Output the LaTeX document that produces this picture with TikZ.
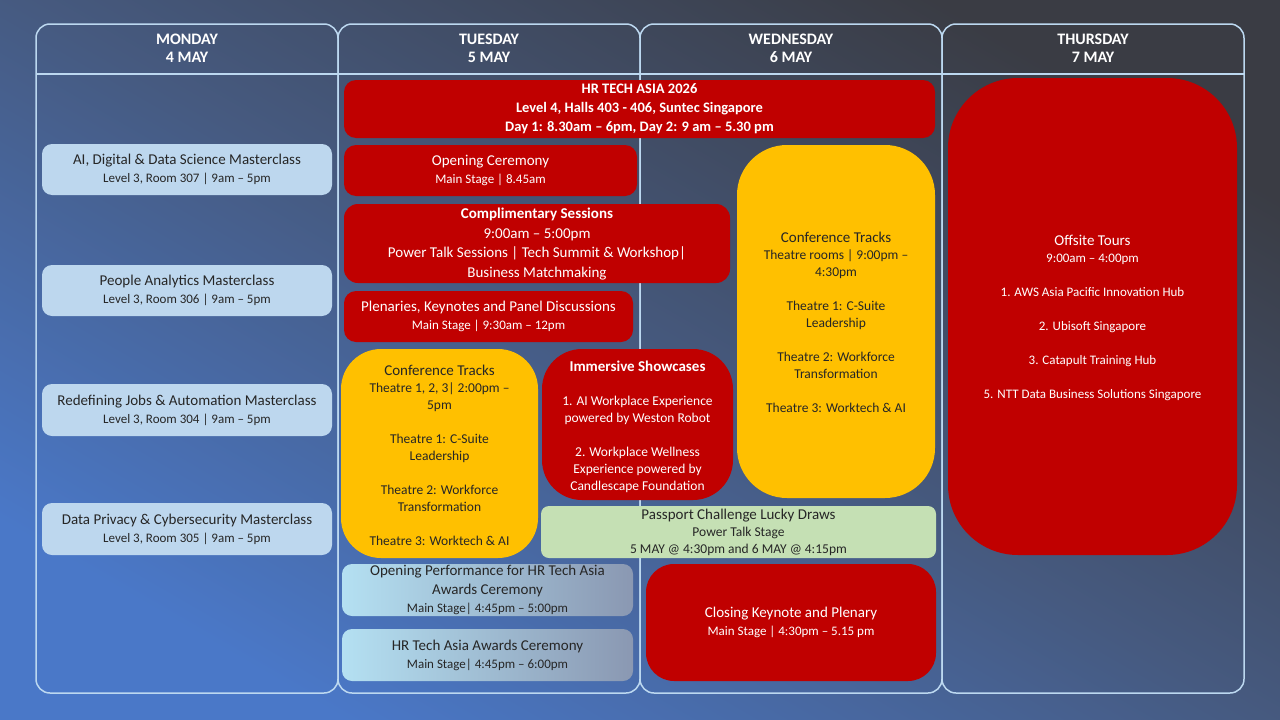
\documentclass[tikz,border=0pt]{standalone}
\usepackage{fontspec}
\setmainfont{Carlito}
\definecolor{redb}{HTML}{C00000}
\definecolor{yel}{HTML}{FFC000}
\definecolor{lblue}{HTML}{BDD7EE}
\definecolor{lgreen}{HTML}{C5E0B4}
\definecolor{frame}{HTML}{BCD8F0}
\definecolor{bgtr}{HTML}{3A3C44}
\definecolor{bgbl}{HTML}{4A78C8}
\definecolor{bgmid}{HTML}{465A80}
\definecolor{gl}{HTML}{B4E0F2}
\definecolor{gr}{HTML}{8A98B2}
\begin{document}
\begin{tikzpicture}[x=1pt,y=-1pt,
  col/.style={draw=frame,line width=1.5pt,rounded corners=14pt},
  hdr/.style={text=white,font=\fontsize{16}{18}\selectfont\bfseries,align=center}]
\useasboundingbox (0,0) rectangle (1280,720);
\shade[top color=bgtr,bottom color=bgbl,middle color=bgmid,shading angle=-30] (0,0) rectangle (1280,720);
% columns
\foreach \x in {36,338,640,942}{\draw[col] (\x,24) rectangle ++(302,669);}
\draw[frame,line width=1.5pt] (36,74) -- (1244,74);
\node[hdr] (mon) at (187,48) {MONDAY\\4 MAY};
\node[hdr] (tue) at (489,48) {TUESDAY\\5 MAY};
\node[hdr] (wed) at (791,48) {WEDNESDAY\\6 MAY};
\node[hdr] (thu) at (1093,48) {THURSDAY\\7 MAY};
% Monday
\fill[lblue,rounded corners=10pt] (42,144) rectangle (332,195);
\node[align=center,font=\fontsize{15}{18}\selectfont,text=black!85] (m1) at (187,169.5) {AI, Digital \& Data Science Masterclass\\{\fontsize{13}{15}\selectfont Level 3, Room 307 | 9am – 5pm}};
\fill[lblue,rounded corners=10pt] (42,265) rectangle (332,316);
\node[align=center,font=\fontsize{15}{18}\selectfont,text=black!85] (m2) at (187,290.5) {People Analytics Masterclass\\{\fontsize{13}{15}\selectfont Level 3, Room 306 | 9am – 5pm}};
\fill[lblue,rounded corners=10pt] (42,384) rectangle (332,436);
\node[align=center,font=\fontsize{15}{18}\selectfont,text=black!85] (m3) at (187,410) {Redefining Jobs \& Automation Masterclass\\{\fontsize{13}{15}\selectfont Level 3, Room 304 | 9am – 5pm}};
\fill[lblue,rounded corners=10pt] (42,503) rectangle (332,555);
\node[align=center,font=\fontsize{15}{18}\selectfont,text=black!85] (m4) at (187,529) {Data Privacy \& Cybersecurity Masterclass\\{\fontsize{13}{15}\selectfont Level 3, Room 305 | 9am – 5pm}};
% HR Tech
\fill[redb,rounded corners=12pt] (344,80) rectangle (935,138);
\node[text=white,align=center,font=\fontsize{14.5}{19}\selectfont\bfseries] (hr) at (639.5,109) {HR TECH ASIA 2026\\Level 4, Halls 403 - 406, Suntec Singapore\\Day 1: 8.30am – 6pm, Day 2: 9 am – 5.30 pm};
% Opening
\fill[redb,rounded corners=12pt] (344,145) rectangle (637,196);
\node[text=white,align=center,font=\fontsize{15}{18}\selectfont] (op) at (490.5,170.5) {Opening Ceremony\\{\fontsize{13}{15}\selectfont Main Stage | 8.45am}};
% Complimentary
\fill[redb,rounded corners=14pt] (344,204) rectangle (730,283);
\node[text=white,align=center,font=\fontsize{15}{19.5}\selectfont] (cs) at (537,244) {\textbf{Complimentary Sessions}\\9:00am – 5:00pm\\Power Talk Sessions | Tech Summit \& Workshop|\\Business Matchmaking};
% Plenaries
\fill[redb,rounded corners=12pt] (344,291) rectangle (633,342);
\node[text=white,align=center,font=\fontsize{15}{18}\selectfont] (pl) at (488.5,316.5) {Plenaries, Keynotes and Panel Discussions\\{\fontsize{13}{15}\selectfont Main Stage | 9:30am – 12pm}};
% Tue conf tracks
\fill[yel,rounded corners=40pt] (341,349) rectangle (538,558);
\node[align=center,text=black!85,font=\fontsize{13.5}{17}\selectfont] (ct1) at (439.5,455) {{\fontsize{15}{17}\selectfont Conference Tracks}\\Theatre 1, 2, 3| 2:00pm –\\5pm\\[17pt]Theatre 1: C-Suite\\Leadership\\[17pt]Theatre 2: Workforce\\Transformation\\[17pt]Theatre 3: Worktech \& AI};
% Immersive
\fill[redb,rounded corners=40pt] (542,349) rectangle (733,500);
\node[align=center,text=white,font=\fontsize{13.5}{17}\selectfont] (im) at (637.5,427) {{\fontsize{15}{17}\selectfont\bfseries Immersive Showcases}\\[17pt]1. AI Workplace Experience\\powered by Weston Robot\\[17pt]2. Workplace Wellness\\Experience powered by\\Candlescape Foundation};
% Wed conf tracks
\fill[yel,rounded corners=50pt] (737,145) rectangle (935,498);
\node[align=center,text=black!85,font=\fontsize{13.5}{17}\selectfont] (ct2) at (836,322) {{\fontsize{15}{17}\selectfont Conference Tracks}\\Theatre rooms | 9:00pm –\\4:30pm\\[17pt]Theatre 1: C-Suite\\Leadership\\[17pt]Theatre 2: Workforce\\Transformation\\[17pt]Theatre 3: Worktech \& AI};
% Passport
\fill[lgreen,rounded corners=8pt] (541,506) rectangle (936,558);
\node[align=center,text=black!85,font=\fontsize{13.5}{17}\selectfont] (pp) at (738.5,532) {{\fontsize{15}{17}\selectfont Passport Challenge Lucky Draws}\\Power Talk Stage\\5 MAY @ 4:30pm and 6 MAY @ 4:15pm};
% Opening performance
\shade[left color=gl,right color=gr,rounded corners=10pt] (342,564) rectangle (633,616);
\node[align=center,text=black!85,font=\fontsize{15}{18.5}\selectfont] (opf) at (487.5,590) {Opening Performance for HR Tech Asia\\Awards Ceremony\\{\fontsize{13}{15}\selectfont Main Stage| 4:45pm – 5:00pm}};
\shade[left color=gl,right color=gr,rounded corners=10pt] (342,629) rectangle (633,681);
\node[align=center,text=black!85,font=\fontsize{15}{18}\selectfont] (aw) at (487.5,655) {HR Tech Asia Awards Ceremony\\{\fontsize{13}{15}\selectfont Main Stage| 4:45pm – 6:00pm}};
% Closing
\fill[redb,rounded corners=28pt] (646,564) rectangle (936,681);
\node[align=center,text=white,font=\fontsize{15}{18}\selectfont] (cl) at (791,622.5) {Closing Keynote and Plenary\\{\fontsize{13}{15}\selectfont Main Stage | 4:30pm – 5.15 pm}};
% Offsite
\fill[redb,rounded corners=70pt] (948,78) rectangle (1237,555);
\node[align=center,text=white,font=\fontsize{13}{17}\selectfont] (off) at (1092.5,318) {{\fontsize{15}{17}\selectfont Offsite Tours}\\9:00am – 4:00pm\\[17pt]1. AWS Asia Pacific Innovation Hub\\[17pt]2. Ubisoft Singapore\\[17pt]3. Catapult Training Hub\\[17pt]5. NTT Data Business Solutions Singapore};
\end{tikzpicture}
\end{document}
